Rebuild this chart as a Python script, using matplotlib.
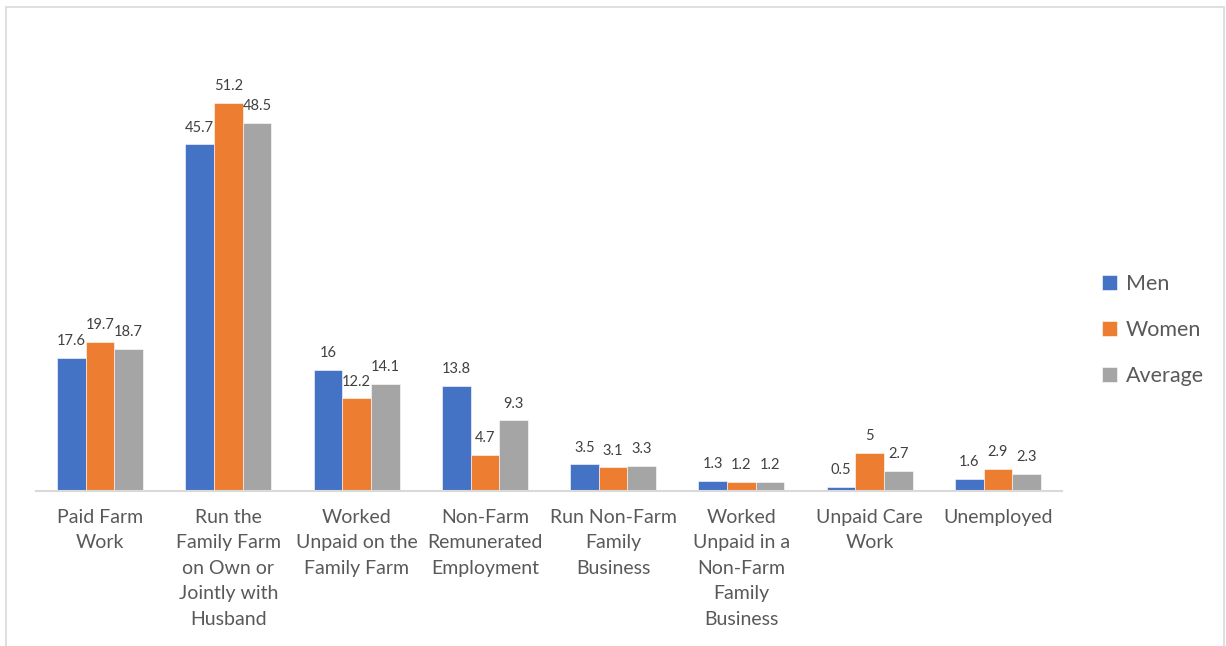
import matplotlib.pyplot as plt
import matplotlib.patches as mpatches
import numpy as np

categories = [
    "Paid Farm\nWork",
    "Run the\nFamily Farm\non Own or\nJointly with\nHusband",
    "Worked\nUnpaid on the\nFamily Farm",
    "Non-Farm\nRemunerated\nEmployment",
    "Run Non-Farm\nFamily\nBusiness",
    "Worked\nUnpaid in a\nNon-Farm\nFamily\nBusiness",
    "Unpaid Care\nWork",
    "Unemployed",
]
men = [17.6, 45.7, 16, 13.8, 3.5, 1.3, 0.5, 1.6]
women = [19.7, 51.2, 12.2, 4.7, 3.1, 1.2, 5, 2.9]
average = [18.7, 48.5, 14.1, 9.3, 3.3, 1.2, 2.7, 2.3]
series_names = ["Men", "Women", "Average"]
colors = ["#4472C4", "#ED7D31", "#A5A5A5"]

plt.rcParams['font.family'] = ['Lato', 'DejaVu Sans']
txt_color = "#595959"

fig = plt.figure(figsize=(12.26, 6.46), dpi=100)
ax = fig.add_axes([36/1226, 155/646, 1026/1226, 455/646])

x = np.arange(len(categories))
w = 0.223
for i, (vals, name, c) in enumerate(zip([men, women, average], series_names, colors)):
    pos = x + (i - 1) * w
    ax.bar(pos, vals, w, color=c, label=name, edgecolor="white", linewidth=0.4)
    for p, v in zip(pos, vals):
        ax.text(p, v + 1.3, f"{v:g}", ha="center", va="bottom", fontsize=10.5, color="#404040")

ax.set_xlim(-0.5, len(categories) - 0.5)
ax.set_ylim(0, 60)
ax.set_yticks([])
ax.set_xticks(x)
ax.set_xticklabels(categories, fontsize=14, color=txt_color, linespacing=1.6)
ax.tick_params(axis="x", length=0, pad=13)
for s in ["top", "right", "left"]:
    ax.spines[s].set_visible(False)
ax.spines["bottom"].set_color("#D9D9D9")
ax.spines["bottom"].set_linewidth(1.5)

leg = fig.legend(loc="center left", bbox_to_anchor=(1083/1226, 1 - 330/646),
                 frameon=False, fontsize=15.5, handlelength=0.7, handleheight=0.7,
                 handletextpad=0.4, labelspacing=1.2)
for t in leg.get_texts():
    t.set_color(txt_color)

# light chart-area border
fig.patches.append(mpatches.Rectangle((6/1226, -0.05), (1224 - 6)/1226, 1.05 - 7/646,
                                      transform=fig.transFigure, fill=False,
                                      edgecolor="#D9D9D9", linewidth=1.2))

fig.savefig("out.png", dpi=100, facecolor="white")
